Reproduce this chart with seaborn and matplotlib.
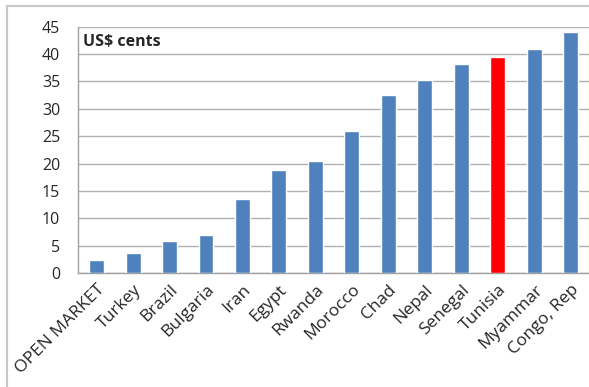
import matplotlib
matplotlib.use("Agg")
import matplotlib.pyplot as plt
import seaborn as sns
import pandas as pd
from matplotlib.patches import Rectangle

countries = ['OPEN MARKET', 'Turkey', 'Brazil', 'Bulgaria', 'Iran', 'Egypt', 'Rwanda',
             'Morocco', 'Chad', 'Nepal', 'Senegal', 'Tunisia', 'Myammar', 'Congo, Rep']
cents = [2.4, 3.7, 5.9, 6.9, 13.5, 18.8, 20.5, 26.0, 32.5, 35.3, 38.2, 39.5, 41.0, 44.1]
highlight = 'Tunisia'

df = pd.DataFrame({'country': countries, 'cents': cents})
df['group'] = ['hl' if c == highlight else 'base' for c in countries]

sns.set_style("white")
plt.rcParams['font.family'] = ['Open Sans', 'DejaVu Sans']

fig = plt.figure(figsize=(5.89, 3.87), dpi=100)
ax = fig.add_axes([0.133, 0.294, 0.867, 0.637])

sns.barplot(data=df, x='country', y='cents', hue='group',
            palette={'base': '#4F81BD', 'hl': '#FF0000'}, saturation=1,
            width=0.41, dodge=False, legend=False, ax=ax, zorder=3)

ax.set_ylim(0, 45)
ax.set_xlim(-0.5, len(countries) - 0.5)
ax.set_yticks(range(0, 46, 5))
ax.yaxis.grid(True, color='#B0B0B0', linewidth=1, zorder=0)
ax.set_axisbelow(True)

for s in ['top', 'right']:
    ax.spines[s].set_visible(False)
for s in ['left', 'bottom']:
    ax.spines[s].set_color('#A0A0A0')
    ax.spines[s].set_linewidth(1)

ax.set_xticks(range(len(countries)))
ax.set_xticklabels(countries, rotation=45, ha='right', rotation_mode='anchor', fontsize=12.5)
ax.set_xticks([i - 0.5 for i in range(len(countries) + 1)], minor=True)
ax.tick_params(axis='x', which='major', length=0, pad=6)
ax.tick_params(axis='x', which='minor', length=5, color='#A0A0A0', direction='out')
ax.tick_params(axis='y', length=4, color='#A0A0A0', labelsize=11.5, pad=9, direction='out')
ax.set_xlabel('')
ax.set_ylabel('')

ax.text(0.01, 0.97, 'US$ cents', transform=ax.transAxes, fontsize=11.5,
        fontweight='bold', va='top', ha='left')

# outer chart frame
fig.patches.append(Rectangle((7 / 589, -0.05), 1.1, 1 - 6 / 387 + 0.05,
                             transform=fig.transFigure, fill=False,
                             edgecolor='#C8C8C8', linewidth=1.5))

fig.savefig('out.png', dpi=100)
